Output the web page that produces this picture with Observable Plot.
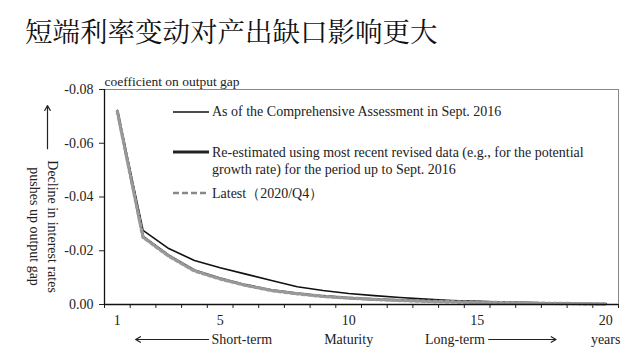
<!DOCTYPE html>
<html><head><meta charset="utf-8">
<script src="https://cdn.jsdelivr.net/npm/d3@7"></script>
<script src="https://cdn.jsdelivr.net/npm/@observablehq/plot@0.6"></script>
<style>
body{margin:0;background:#fff;}
#wrap{position:relative;width:640px;height:362px;overflow:hidden;font-family:"Liberation Serif","Times New Roman",serif;color:#222;}
#title{position:absolute;left:25px;top:10px;font-family:"Noto Serif CJK SC","Noto Sans CJK SC",serif;font-size:27.5px;line-height:40px;color:#111;white-space:nowrap;}
#chart{position:absolute;left:0;top:62px;}
.leg{position:absolute;font-size:14px;line-height:17px;white-space:nowrap;color:#222;}
.sw{position:absolute;}
</style></head>
<body>
<div id="wrap">
  <div id="title">短端利率变动对产出缺口影响更大</div>
  <div id="chart"></div>
  <svg class="sw" style="left:173px;top:107px" width="37" height="10"><line x1="0" x2="36" y1="5" y2="5" stroke="#111" stroke-width="1.5"/></svg>
  <div class="leg" style="left:212px;top:103px">As of the Comprehensive Assessment in Sept. 2016</div>
  <svg class="sw" style="left:173px;top:147px" width="37" height="10"><line x1="0" x2="36" y1="5" y2="5" stroke="#222" stroke-width="3"/></svg>
  <div class="leg" style="left:212px;top:144px">Re-estimated using most recent revised data (e.g., for the potential<br>growth rate) for the period up to Sept. 2016</div>
  <svg class="sw" style="left:173px;top:188px" width="37" height="10"><line x1="0" x2="36" y1="5" y2="5" stroke="#888" stroke-width="2.5" stroke-dasharray="6,3"/></svg>
  <div class="leg" style="left:212px;top:185px">Latest（2020/Q4）</div>
</div>
<script>
const years = d3.range(1, 21);
const assess2016 = [-0.0722,-0.0276,-0.0208,-0.0164,-0.0137,-0.0113,-0.0089,-0.0066,-0.0052,-0.0041,-0.0033,-0.0026,-0.0020,-0.0015,-0.0012,-0.0009,-0.0007,-0.0005,-0.0003,-0.0002];
const reestimated = [-0.0720,-0.0252,-0.0182,-0.0127,-0.0097,-0.0072,-0.0053,-0.0041,-0.0031,-0.0024,-0.0019,-0.0016,-0.0013,-0.0011,-0.0009,-0.0007,-0.0005,-0.0004,-0.0003,-0.0002];
const latest = [-0.0718,-0.0250,-0.0180,-0.0125,-0.0095,-0.0071,-0.0052,-0.0040,-0.0030,-0.0024,-0.0019,-0.0015,-0.0012,-0.0010,-0.0008,-0.0007,-0.0005,-0.0004,-0.0003,-0.0002];
const yTicks = [0, -0.02, -0.04, -0.06, -0.08];
const xTickLabels = [1, 5, 10, 15, 20];
const xTickMarks = d3.range(0.5, 21, 1);

const rows = (vals) => years.map((y, i) => ({year: y, value: vals[i]}));

const chart = Plot.plot({
  width: 640,
  height: 300,
  marginLeft: 104,
  marginRight: 22,
  marginTop: 27,
  marginBottom: 58,
  style: {fontFamily: "Liberation Serif, Times New Roman, serif", fontSize: "14px", color: "#222", background: "transparent"},
  x: {domain: [0.5, 20.5]},
  y: {domain: [0, -0.08]},
  marks: [
    Plot.frame({stroke: "#888", strokeWidth: 1}),
    Plot.axisY({ticks: yTicks, tickSize: 5, tickPadding: 6, tickFormat: d => d.toFixed(2), label: null}),
    Plot.axisX({ticks: xTickMarks, tickSize: 4, tickFormat: () => "", label: null}),
    Plot.axisX({ticks: xTickLabels, tickSize: 0, tickPadding: 11, tickFormat: d => String(d), label: null}),
    Plot.line(rows(assess2016), {x: "year", y: "value", stroke: "#111", strokeWidth: 1.6}),
    Plot.line(rows(reestimated), {x: "year", y: "value", stroke: "#333", strokeWidth: 2.6}),
    Plot.line(rows(latest), {x: "year", y: "value", stroke: "#999", strokeWidth: 3.4, strokeDasharray: "3,3"}),
    Plot.ruleY([0], {stroke: "#111", strokeWidth: 1.3}),
    Plot.ruleX([0.5], {stroke: "#111", strokeWidth: 1.3}),
    Plot.text(["coefficient on output gap"], {frameAnchor: "top-left", textAnchor: "start", lineAnchor: "middle", dy: -8, fontSize: 13.5}),
    Plot.text([{t: "Decline in interest rates\npushes up output gap", y: -0.029}], {text: "t", y: "y", frameAnchor: "left", dx: -60, rotate: 90, lineHeight: 1.3, textAnchor: "middle"}),
    Plot.arrow([{}], {x1: 0.5, x2: 0.5, y1: -0.058, y2: -0.074, dx: -57, stroke: "#222", strokeWidth: 1.2, headLength: 7, bend: 0}),
    Plot.arrow([{}], {x1: 4.55, x2: 1.71, y1: 0, y2: 0, dy: 35, stroke: "#222", strokeWidth: 1.2, headLength: 7, bend: 0}),
    Plot.arrow([{}], {x1: 15.45, x2: 18.07, y1: 0, y2: 0, dy: 35, stroke: "#222", strokeWidth: 1.2, headLength: 7, bend: 0}),
    Plot.text([{t: "Short-term", x: 4.66}], {text: "t", x: "x", y: () => 0, dy: 35, textAnchor: "start"}),
    Plot.text([{t: "Maturity", x: 10}], {text: "t", x: "x", y: () => 0, dy: 35, textAnchor: "middle"}),
    Plot.text([{t: "Long-term", x: 15.3}], {text: "t", x: "x", y: () => 0, dy: 35, textAnchor: "end"}),
    Plot.text([{t: "years", x: 20}], {text: "t", x: "x", y: () => 0, dy: 35, textAnchor: "middle"})
  ]
});
document.getElementById("chart").appendChild(chart);
</script>
</body></html>
